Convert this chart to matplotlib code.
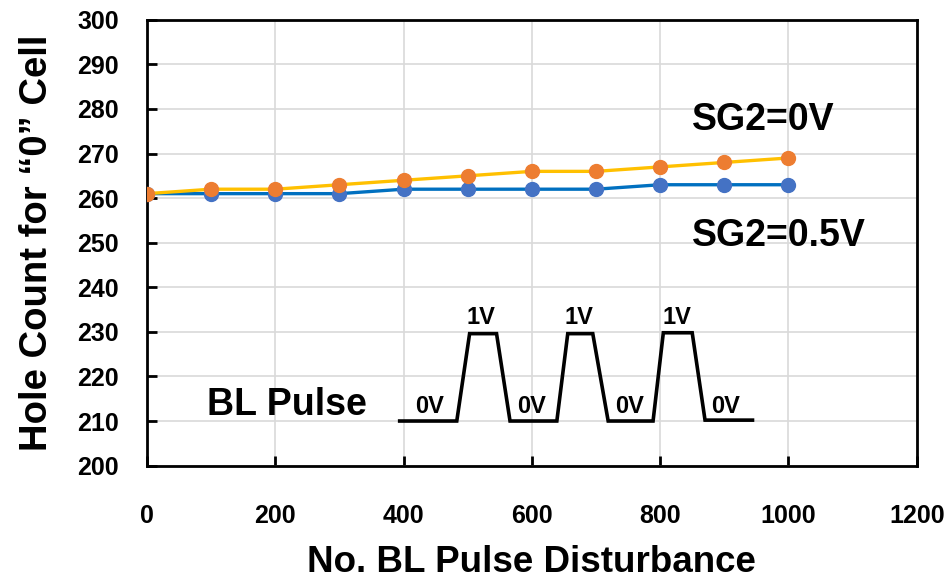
import matplotlib.pyplot as plt

# Données
n_pulses = [0, 100, 200, 300, 400, 500, 600, 700, 800, 900, 1000]
holes_sg2_0v = [261, 262, 262, 263, 264, 265, 266, 266, 267, 268, 269]
holes_sg2_05v = [261, 261, 261, 261, 262, 262, 262, 262, 263, 263, 263]

# schéma de l'impulsion BL (dessiné en coordonnées des données)
pulse_x = [394, 483, 503, 545, 566, 639, 656, 695, 719, 789, 805, 850, 870, 944]
pulse_y = [210, 210, 229.6, 229.6, 210, 210, 229.6, 229.6, 210, 210, 229.8, 229.8, 210.2, 210.2]
level_labels = ["0V", "1V", "0V", "1V", "0V", "1V", "0V"]
level_x = [441, 521, 600, 674, 752, 826, 902]
level_y = [213.3, 233.2, 213.3, 233.2, 213.3, 233.2, 213.3]

plt.rcParams["font.family"] = ["Liberation Sans", "DejaVu Sans"]

fig = plt.figure(figsize=(9.48, 5.82), dpi=100)
ax = fig.add_axes([0.155, 0.2, 0.812, 0.766])

ax.plot(n_pulses, holes_sg2_05v, color="#0070C0", lw=2.4, marker="o",
        markersize=10, markerfacecolor="#4472C4", markeredgecolor="#4472C4", zorder=3)
ax.plot(n_pulses, holes_sg2_0v, color="#FFC000", lw=2.4, marker="o",
        markersize=10, markerfacecolor="#ED7D31", markeredgecolor="#ED7D31", zorder=4)

ax.plot(pulse_x, pulse_y, color="black", lw=2.6, solid_joinstyle="miter", zorder=2)
for lab, x, y in zip(level_labels, level_x, level_y):
    ax.text(x, y, lab, ha="center", va="center", fontsize=17, fontweight="bold")

ax.text(219, 213.6, "BL Pulse", ha="center", va="center", fontsize=27, fontweight="bold")
ax.text(850, 277.6, "SG2=0V", ha="left", va="center", fontsize=27, fontweight="bold")
ax.text(850, 251.6, "SG2=0.5V", ha="left", va="center", fontsize=27, fontweight="bold")

ax.set_xlim(0, 1200)
ax.set_ylim(200, 300)
ax.set_xticks(range(0, 1201, 200))
ax.set_yticks(range(200, 301, 10))
ax.grid(True, color="#D9D9D9", lw=1.2, zorder=0)
ax.set_axisbelow(True)

for s in ax.spines.values():
    s.set_linewidth(2)
    s.set_color("black")

ax.tick_params(axis="y", direction="in", length=7, width=2, pad=20, labelsize=18)
ax.tick_params(axis="x", direction="in", length=7, width=2, pad=28, labelsize=18)
for t in ax.get_yticklabels() + ax.get_xticklabels():
    t.set_fontweight("bold")

ax.set_xlabel("No. BL Pulse Disturbance", fontsize=26.5, fontweight="bold")
ax.set_ylabel("Hole Count for \u201c0\u201d Cell", fontsize=27.5, fontweight="bold")
ax.xaxis.set_label_coords(0.5, -0.178)
ax.yaxis.set_label_coords(-0.12, 0.5)

fig.savefig("out.png", dpi=100)
